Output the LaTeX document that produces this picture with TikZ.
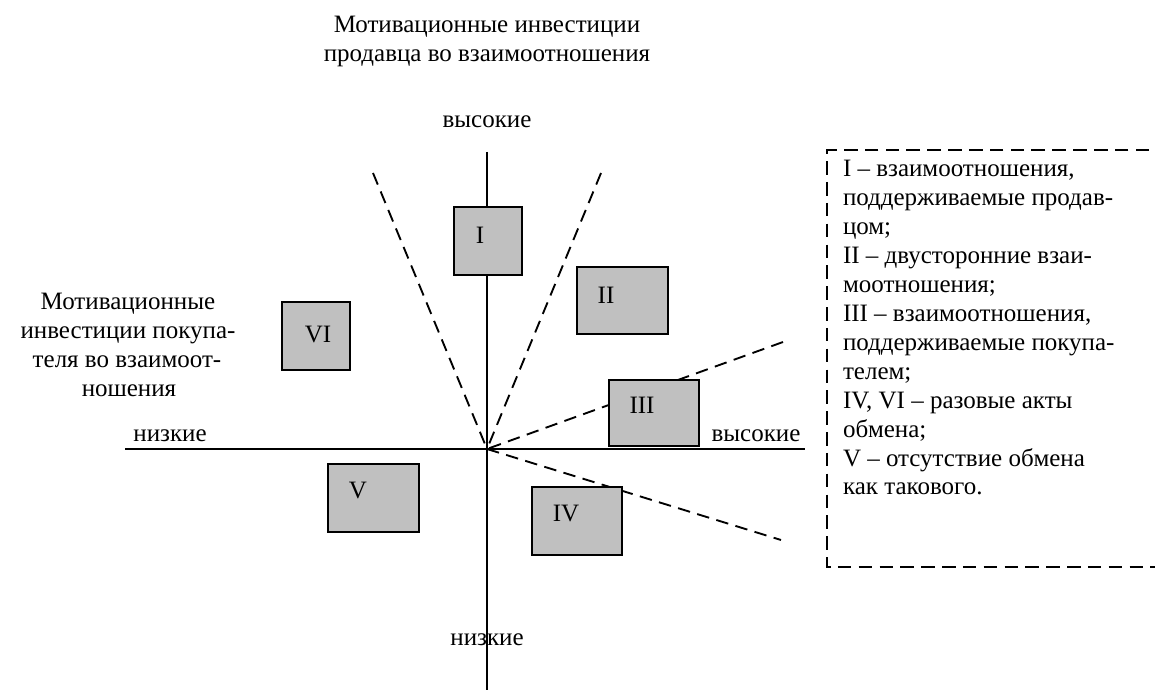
\documentclass[tikz,border=0pt]{standalone}
\usepackage{fontspec}
\setmainfont{Liberation Serif}
\newfontfamily\lserif{Liberation Serif}
\begin{document}
\begin{tikzpicture}[x=0.48pt,y=-0.48pt,
  every node/.style={font=\lserif\fontsize{12}{13.9}\selectfont, inner sep=0pt, outer sep=0pt},
  axis/.style={line width=1pt},
  dline/.style={line width=0.9pt, dash pattern=on 6pt off 3.6pt},
  sbox/.style={draw, line width=1pt, fill={rgb,255:red,192;green,192;blue,192}},
  legline/.style={dash pattern=on 6.5pt off 3.5pt, line width=0.8pt}]
\useasboundingbox (0,0) rectangle (1155,693);

% title
\node[anchor=base] (t1) at (487,33) {Мотивационные инвестиции};
\node[anchor=base] (t2) at (487,62) {продавца во взаимоотношения};

% left label
\node[anchor=base] (l1) at (128,310) {Мотивационные};
\node[anchor=base] (l2) at (128,339) {инвестиции покупа-};
\node[anchor=base] (l3) at (127,368) {теля во взаимоот-};
\node[anchor=base] (l4) at (129,397) {ношения};

% axes
\coordinate (O) at (487,449);
\coordinate (vt) at (487,152);
\coordinate (vb) at (487,690);
\coordinate (hl) at (125,449);
\coordinate (hr) at (805,449);
\draw[axis] (vt) -- (vb);
\draw[axis] (hl) -- (hr);

% axis labels
\node[anchor=base] (top) at (487,128) {высокие};
\node[anchor=base] (left) at (170,442) {низкие};
\node[anchor=base] (right) at (756,442) {высокие};
\node[anchor=base] (bottom) at (487,645) {низкие};

% dashed lines
\coordinate (d1) at (373,173);
\coordinate (d2) at (601,173);
\coordinate (d3) at (783,342);
\coordinate (d4) at (781,540);
\draw[dline] (d1) -- (O);
\draw[dline] (d2) -- (O);
\draw[dline] (d3) -- (O);
\draw[dline] (O) -- (d4);

% boxes
\draw[sbox] (454,207) rectangle (522,275);
\draw[sbox] (577,267) rectangle (668,334);
\draw[sbox] (282,302) rectangle (350,370);
\draw[sbox] (609,380) rectangle (699,446);
\draw[sbox] (328,464) rectangle (419,532);
\draw[sbox] (532,487) rectangle (622,555);
\node (bI) at (480,235) {I};
\node (bII) at (606,295) {II};
\node (bVI) at (318,335) {VI};
\node (bIII) at (642,405) {III};
\node (bV) at (358,491) {V};
\node (bIV) at (566,514) {IV};

% legend
\coordinate (g1) at (1170,150);
\coordinate (g2) at (827,150);
\coordinate (g3) at (827,567);
\coordinate (g4) at (1170,567);
\draw[legline] (g1) -- (g2) -- (g3) -- (g4);
\foreach \t [count=\k from 0] in {{I – взаимоотношения,},{поддерживаемые продав-},{цом;},{II – двусторонние взаи-},{моотношения;},{III – взаимоотношения,},{поддерживаемые покупа-},{телем;},{IV, VI – разовые акты},{обмена;},{V – отсутствие обмена},{как такового.}}
  \node[anchor=base west] (leg\k) at (843,177+28.9*\k) {\t};
\end{tikzpicture}
\end{document}
